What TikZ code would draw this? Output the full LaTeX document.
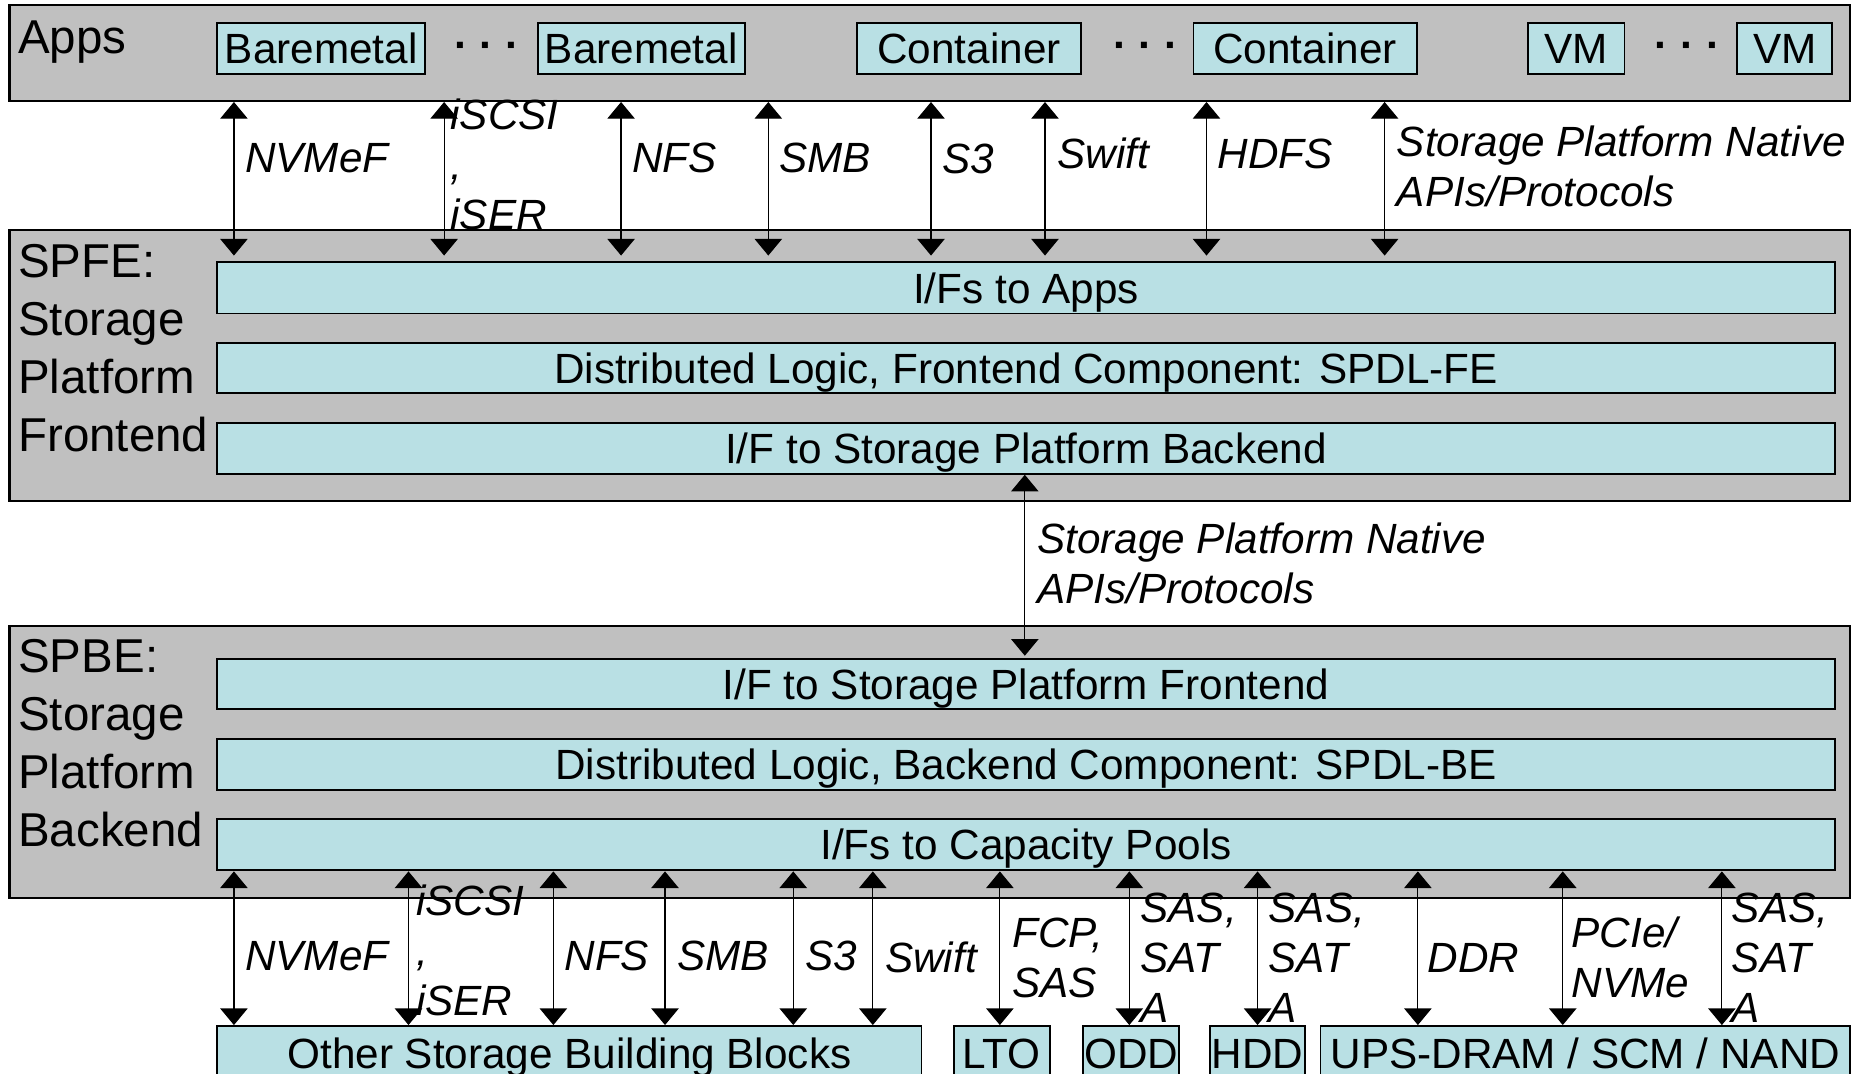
\documentclass[tikz,border=0pt]{standalone}
\usepackage{fontspec}
\setmainfont{Liberation Sans}
\usetikzlibrary{arrows.meta}
\definecolor{panelgray}{RGB}{192,192,192}
\definecolor{boxteal}{RGB}{185,224,228}
% box from (x1,y1) to (x2,y2) in picture pixels: #1 style, #2..#5 corners, #6 name, #7 text
\newcommand\pbox[7]{%
  \node[#1, minimum width={(#4-#2)*0.5pt}, minimum height={(#5-#3)*0.5pt}]
    (#6) at ({(#2+#4)/2},{(#3+#5)/2}) {#7};}
\begin{document}
\begin{tikzpicture}[x=0.5pt,y=-0.5pt,
  panel/.style={draw=black, line width=0.9pt, fill=panelgray, inner sep=0pt},
  tbox/.style={draw=black, line width=0.8pt, fill=boxteal, inner sep=0pt,
    font=\fontsize{17.8}{21}\selectfont, text height=14pt, text depth=1.3pt},
  plab/.style={anchor=base west, inner sep=0pt, align=left,
    font=\fontsize{20}{24.4}\selectfont},
  ilab/.style={anchor=base west, inner sep=0pt, align=left,
    font=\fontsize{17.8}{21}\selectfont\itshape},
  dotsl/.style={anchor=base, inner sep=0pt, font=\fontsize{17.8}{21}\selectfont\bfseries},
  biar/.style={{Triangle[width=11.5pt,length=7pt]}-{Triangle[width=11.5pt,length=7pt]}, line width=0.5pt},
]
\useasboundingbox (0,0) rectangle (1568,904);
\clip (0,0) rectangle (1568,904);
\fill[white] (0,0) rectangle (1568,904);

% ---------- Apps ----------
\pbox{panel}{8}{4}{1558}{85}{apps}{}
\node[plab] (appsl) at (15,45) {Apps};
\pbox{tbox}{183}{19}{358}{62}{bm1}{Baremetal}
\node[dotsl] (d1) at (410,50) {· · ·};
\pbox{tbox}{453}{19}{627}{62}{bm2}{Baremetal}
\pbox{tbox}{722}{19}{910}{62}{ct1}{Container}
\node[dotsl] (d2) at (965,50) {· · ·};
\pbox{tbox}{1005}{19}{1193}{62}{ct2}{Container}
\pbox{tbox}{1287}{19}{1368}{62}{vm1}{VM}
\node[dotsl] (d3) at (1421,50) {· · ·};
\pbox{tbox}{1463}{19}{1543}{62}{vm2}{VM}

% ---------- SPFE ----------
\pbox{panel}{8}{194}{1558}{422}{spfe}{}
\node[plab] (spfel) at (15,380) {SPFE:\\Storage\\Platform\\Frontend};
\pbox{tbox}{183}{221}{1545}{264}{fe1}{I/Fs to Apps}
\pbox{tbox}{183}{289}{1545}{331}{fe2}{Distributed Logic, Frontend Component: SPDL-FE}
\pbox{tbox}{183}{356}{1545}{399}{fe3}{I/F to Storage Platform Backend}

% ---------- SPBE ----------
\pbox{panel}{8}{527}{1558}{756}{spbe}{}
\node[plab] (spbel) at (15,713) {SPBE:\\Storage\\Platform\\Backend};
\pbox{tbox}{183}{555}{1545}{597}{be1}{I/F to Storage Platform Frontend}
\pbox{tbox}{183}{622}{1545}{665}{be2}{Distributed Logic, Backend Component: SPDL-BE}
\pbox{tbox}{183}{690}{1545}{733}{be3}{I/Fs to Capacity Pools}

% ---------- bottom blocks ----------
\pbox{tbox}{183}{864}{776}{911}{osbb}{Other Storage Building Blocks}
\pbox{tbox}{803}{864}{884}{911}{lto}{LTO}
\pbox{tbox}{912}{864}{993}{911}{odd}{ODD}
\pbox{tbox}{1019}{864}{1099}{911}{hdd}{HDD}
\pbox{tbox}{1112}{864}{1558}{911}{ups}{UPS-DRAM / SCM / NAND}

% ---------- top arrows ----------
\foreach \x [count=\i] in {197,374,523,647,784,880,1016,1166}{
  \coordinate (ta\i) at (\x,0);
  \draw[biar, shorten >=2.5pt] (apps.south -| ta\i) -- (fe1.north -| ta\i);
}
\node[ilab] (l1) at (206,145) {NVMeF};
\node[ilab] (l2) at (379,193) {iSCSI\\,\\iSER};
\node[ilab] (l3) at (532,145) {NFS};
\node[ilab] (l4) at (656,145) {SMB};
\node[ilab] (l5) at (793,146) {S3};
\node[ilab] (l6) at (890,142) {Swift};
\node[ilab] (l7) at (1025,142) {HDFS};
\node[ilab] (l8) at (1176,174) {Storage Platform Native\\APIs/Protocols};

% ---------- middle arrow ----------
\coordinate (ma) at (863,0);
\draw[biar, shorten >=1pt] (fe3.south -| ma) -- (be1.north -| ma);
\node[ilab] (m1) at (873,508) {Storage Platform Native\\APIs/Protocols};

% ---------- bottom arrows ----------
\foreach \x/\t [count=\i] in {197/osbb,344/osbb,466/osbb,560/osbb,668/osbb,735/osbb,842/lto,951/odd,1059/hdd,1194/ups,1316/ups,1450/ups}{
  \coordinate (ba\i) at (\x,0);
  \draw[biar] (be3.south -| ba\i) -- (\t.north -| ba\i);
}
\node[ilab] (b1) at (206,817) {NVMeF};
\node[ilab] (b2) at (350,855) {iSCSI\\,\\iSER};
\node[ilab] (b3) at (475,817) {NFS};
\node[ilab] (b4) at (570,817) {SMB};
\node[ilab] (b5) at (678,817) {S3};
\node[ilab] (b6) at (745,819) {Swift};
\node[ilab] (b7) at (852,840) {FCP,\\SAS};
\node[ilab] (b8) at (960,861) {SAS,\\SAT\\A};
\node[ilab] (b9) at (1068,861) {SAS,\\SAT\\A};
\node[ilab] (b10) at (1202,819) {DDR};
\node[ilab] (b11) at (1323,840) {PCIe/\\NVMe};
\node[ilab] (b12) at (1458,861) {SAS,\\SAT\\A};
\end{tikzpicture}
\end{document}
